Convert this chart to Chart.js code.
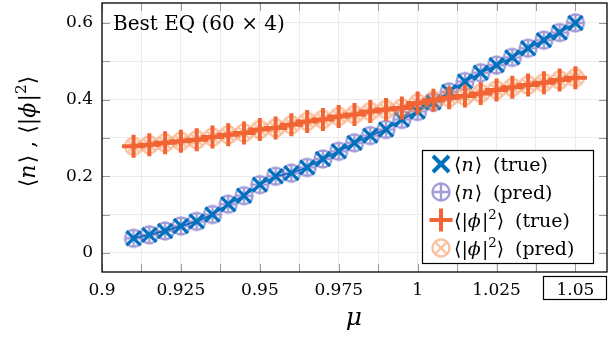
<!DOCTYPE html>
<html><head><meta charset="utf-8">
<script src="https://cdn.jsdelivr.net/npm/chart.js@4.4.0/dist/chart.umd.min.js"></script>
<style>html,body{margin:0;padding:0;background:#fff}</style>
</head><body>
<canvas id="c" width="612" height="343"></canvas>
<script>
// ---------- data ----------
const mu = [0.91,0.915,0.92,0.925,0.93,0.935,0.94,0.945,0.95,0.955,0.96,0.965,0.97,0.975,0.98,0.985,0.99,0.995,1.0,1.005,1.01,1.015,1.02,1.025,1.03,1.035,1.04,1.045,1.05];
const nTrue = [0.038,0.047,0.057,0.070,0.082,0.100,0.127,0.149,0.178,0.200,0.208,0.223,0.245,0.265,0.287,0.306,0.322,0.348,0.369,0.393,0.420,0.447,0.470,0.490,0.510,0.534,0.555,0.575,0.600];
const nPred = [0.038,0.047,0.057,0.070,0.082,0.100,0.127,0.149,0.178,0.200,0.208,0.223,0.245,0.265,0.287,0.306,0.322,0.348,0.369,0.393,0.420,0.447,0.470,0.490,0.510,0.534,0.555,0.575,0.600];
const phiTrue = [0.278,0.282,0.287,0.291,0.295,0.302,0.308,0.313,0.322,0.326,0.334,0.343,0.348,0.356,0.361,0.369,0.374,0.378,0.391,0.398,0.405,0.409,0.416,0.425,0.432,0.438,0.444,0.451,0.457];
const phiPred = [0.278,0.282,0.287,0.291,0.295,0.302,0.308,0.313,0.322,0.326,0.334,0.343,0.348,0.356,0.361,0.369,0.374,0.378,0.391,0.398,0.405,0.409,0.416,0.425,0.432,0.438,0.444,0.451,0.457];
const xTickValues = [0.9,0.925,0.95,0.975,1.0,1.025,1.05];
const xTickLabels = ["0.9","0.925","0.95","0.975","1","1.025","1.05"];
const yTickValues = [0,0.2,0.4,0.6];
const yTickLabels = ["0","0.2","0.4","0.6"];
const titleText = "Best EQ (60 \u00d7 4)";
const legendLabels = [
  [{t:"\u27e8"},{t:"n",i:1},{t:"\u27e9"},{t:" (true)",g:1}],
  [{t:"\u27e8"},{t:"n",i:1},{t:"\u27e9"},{t:" (pred)",g:1}],
  [{t:"\u27e8|"},{t:"\u03d5",i:1},{t:"|"},{t:"2",s:1},{t:"\u27e9"},{t:" (true)",g:1}],
  [{t:"\u27e8|"},{t:"\u03d5",i:1},{t:"|"},{t:"2",s:1},{t:"\u27e9"},{t:" (pred)",g:1}]
];
const yTitle = [{t:"\u27e8"},{t:"n",i:1},{t:"\u27e9 , \u27e8|"},{t:"\u03d5",i:1},{t:"|"},{t:"2",s:1},{t:"\u27e9"}];
const xTitle = [{t:"\u03bc",i:1}];

// ---------- styling ----------
const FONT = "'DejaVu Serif', serif";
const BLUE = 'rgb(0,114,189)';
const PURPLE = 'rgba(100,90,190,0.6)';
const ORANGE = 'rgb(242,100,52)';
const PEACH = 'rgba(245,140,80,0.55)';

function circMarker(kind, color, r, lw) {
  const s = Math.ceil(2*r + lw + 2);
  const c = document.createElement('canvas');
  c.width = c.height = s;
  const g = c.getContext('2d');
  g.translate(s/2, s/2);
  g.strokeStyle = color; g.lineWidth = lw;
  g.beginPath();
  g.arc(0,0,r,0,Math.PI*2);
  if (kind === 'plus') {
    g.moveTo(-r,0); g.lineTo(r,0); g.moveTo(0,-r); g.lineTo(0,r);
  } else {
    const d = r*Math.SQRT1_2;
    g.moveTo(-d,-d); g.lineTo(d,d); g.moveTo(-d,d); g.lineTo(d,-d);
  }
  g.stroke();
  return c;
}
const oplus = circMarker('plus', PURPLE, 8.5, 2.4);
const otimes = circMarker('times', PEACH, 8.5, 2.4);
const oplusL = circMarker('plus', PURPLE, 8.5, 2.4);
const otimesL = circMarker('times', PEACH, 8.5, 2.4);

function pts(ys){ return mu.map((x,k)=>({x:x, y:ys[k]})); }

function drawRich(ctx, parts, x, y, size, draw) {
  let cx = x;
  for (const p of parts) {
    const fs = p.s ? size*0.7 : size;
    ctx.font = (p.i ? 'italic ' : '') + fs + 'px ' + FONT;
    const dy = p.s ? -size*0.42 : 0;
    if (p.g) cx += size*0.25;
    if (draw !== false) ctx.fillText(p.t, cx, y + dy);
    cx += ctx.measureText(p.t).width + (p.i ? size*0.06 : 0);
  }
  return cx - x;
}

const decor = {
  id: 'decor',
  beforeDatasetsDraw(chart) {
    const {ctx, chartArea:a, scales} = chart;
    ctx.save();
    ctx.strokeStyle = '#9a9a9a'; ctx.lineWidth = 1;
    const tl = 8;
    ctx.beginPath();
    scales.x.ticks.forEach(t => {
      const px = Math.round(scales.x.getPixelForValue(t.value)) + 0.5;
      ctx.moveTo(px, a.bottom); ctx.lineTo(px, a.bottom - tl);
      ctx.moveTo(px, a.top); ctx.lineTo(px, a.top + tl);
    });
    scales.y.ticks.forEach(t => {
      const py = Math.round(scales.y.getPixelForValue(t.value)) + 0.5;
      ctx.moveTo(a.left, py); ctx.lineTo(a.left + tl, py);
      ctx.moveTo(a.right, py); ctx.lineTo(a.right - tl, py);
    });
    ctx.stroke();
    ctx.restore();
  },
  afterDraw(chart) {
    const {ctx, chartArea:a, scales} = chart;
    ctx.save();
    // frame
    ctx.strokeStyle = '#000'; ctx.lineWidth = 1.3;
    ctx.strokeRect(a.left, a.top, a.right - a.left, a.bottom - a.top);
    ctx.fillStyle = '#000';
    ctx.textBaseline = 'alphabetic';
    // title
    ctx.font = '20px ' + FONT;
    ctx.fillText(titleText, a.left + 11, a.top + 27);
    // x title
    const xw = drawRich(ctx, xTitle, 0, 0, 25, false);
    drawRich(ctx, xTitle, (a.left + a.right)/2 - xw/2, 325, 25);
    // y title
    ctx.save();
    ctx.translate(35, (a.top + a.bottom)/2 - 6);
    ctx.rotate(-Math.PI/2);
    const yw = drawRich(ctx, yTitle, 0, 0, 22, false);
    drawRich(ctx, yTitle, -yw/2, 0, 22);
    ctx.restore();
    // box around last x label
    const lx = scales.x.getPixelForValue(xTickValues[xTickValues.length-1]);
    ctx.lineWidth = 1.2;
    ctx.strokeRect(Math.round(lx) - 31.5, 276.5, 63, 23);
    // legend
    const bx = 422.5, by = 150.5, bw = 171, bh = 113;
    ctx.fillStyle = '#fff';
    ctx.fillRect(bx, by, bw, bh);
    ctx.strokeStyle = '#000'; ctx.lineWidth = 1.2;
    ctx.strokeRect(bx, by, bw, bh);
    const mx = 441, rows = [164, 192, 220, 248];
    ctx.lineCap = 'butt';
    ctx.strokeStyle = BLUE; ctx.lineWidth = 4;
    ctx.beginPath();
    ctx.moveTo(mx-8, rows[0]-8); ctx.lineTo(mx+8, rows[0]+8);
    ctx.moveTo(mx-8, rows[0]+8); ctx.lineTo(mx+8, rows[0]-8);
    ctx.stroke();
    ctx.drawImage(oplusL, mx - oplusL.width/2, rows[1] - oplusL.height/2);
    ctx.strokeStyle = ORANGE; ctx.lineWidth = 4;
    ctx.beginPath();
    ctx.moveTo(mx-11.5, rows[2]); ctx.lineTo(mx+11.5, rows[2]);
    ctx.moveTo(mx, rows[2]-11.5); ctx.lineTo(mx, rows[2]+11.5);
    ctx.stroke();
    ctx.drawImage(otimesL, mx - otimesL.width/2, rows[3] - otimesL.height/2);
    ctx.fillStyle = '#000';
    legendLabels.forEach((parts, k) => drawRich(ctx, parts, 454, rows[k] + 6.5, 19));
    ctx.restore();
  }
};

function buildTicks(major, step, min, max) {
  const out = [];
  major.forEach(v => { out.push(v); if (v + step < max + 1e-9) out.push(+(v + step).toFixed(5)); });
  return out.filter(v => v >= min - 1e-9 && v <= max + 1e-9);
}
function lookup(vals, labels, v) {
  const k = vals.findIndex(u => Math.abs(u - v) < 1e-6);
  return k >= 0 ? labels[k] : '';
}

new Chart(document.getElementById('c'), {
  type: 'scatter',
  data: {
    datasets: [
      { label: 'phi true', data: pts(phiTrue), showLine: true, borderColor: ORANGE, borderWidth: 4,
        pointStyle: 'cross', pointRadius: 11.5, pointBorderWidth: 4, pointBorderColor: ORANGE, pointBackgroundColor: ORANGE },
      { label: 'phi pred', data: pts(phiPred), showLine: false, pointStyle: otimes, pointRadius: 9 },
      { label: 'n true', data: pts(nTrue), showLine: true, borderColor: BLUE, borderWidth: 1.5,
        pointStyle: 'crossRot', pointRadius: 10, pointBorderWidth: 3.2, pointBorderColor: BLUE, pointBackgroundColor: BLUE },
      { label: 'n pred', data: pts(nPred), showLine: true, borderColor: PURPLE, borderWidth: 2, pointStyle: oplus, pointRadius: 9 }
    ]
  },
  options: {
    responsive: false, animation: false, devicePixelRatio: 1,
    layout: { autoPadding: false, padding: { left: 0, right: 5, top: 3, bottom: 0 } },
    plugins: { legend: { display: false }, tooltip: { enabled: false } },
    scales: {
      x: {
        type: 'linear', min: 0.9, max: 1.06,
        afterBuildTicks: s => { s.ticks = buildTicks(xTickValues, 0.0125, 0.9, 1.06).map(v => ({value: v})); },
        afterFit: s => { s.height = 71; s.paddingLeft = 0; s.paddingRight = 0; },
        grid: { color: '#ececec', lineWidth: 1, drawTicks: false },
        border: { display: false },
        ticks: { autoSkip: false, maxRotation: 0, padding: 8, color: '#000', font: { family: FONT, size: 17 },
          callback: v => lookup(xTickValues, xTickLabels, v) }
      },
      y: {
        type: 'linear', min: -0.05, max: 0.652,
        afterBuildTicks: s => { s.ticks = buildTicks(yTickValues, 0.1, -0.05, 0.652).map(v => ({value: v})); },
        afterFit: s => { s.width = 102; s.paddingTop = 0; s.paddingBottom = 0; },
        grid: { color: '#ececec', lineWidth: 1, drawTicks: false },
        border: { display: false },
        ticks: { autoSkip: false, padding: 9, color: '#000', font: { family: FONT, size: 17 },
          callback: v => lookup(yTickValues, yTickLabels, v) }
      }
    }
  },
  plugins: [decor]
});
</script>
</body></html>
